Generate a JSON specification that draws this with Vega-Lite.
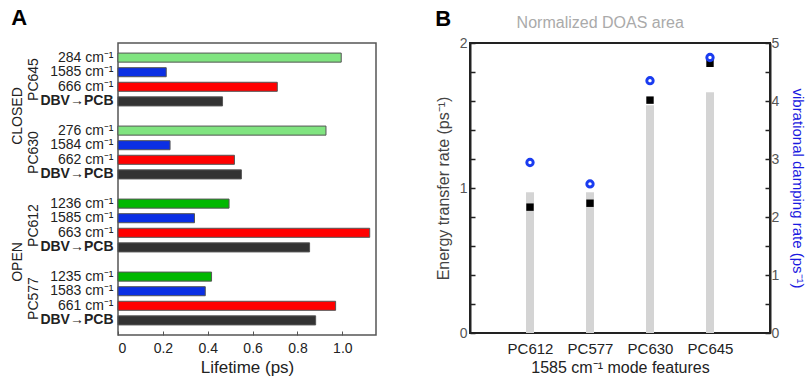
{
  "$schema": "https://vega.github.io/schema/vega-lite/v6.json",
  "padding": {"left": 10, "top": 6, "right": 0, "bottom": 2},
  "config": {"font": "Liberation Sans", "axis": {"labelFont": "Liberation Sans", "titleFont": "Liberation Sans"}},
  "spacing": 57,
  "hconcat": [
    {
      "title": {"text": "A", "fontSize": 22, "fontWeight": "bold", "anchor": "start", "frame": "bounds", "color": "#000", "offset": 13},
      "width": 258,
      "height": 292,
      "view": {"stroke": "#555", "strokeWidth": 1.5},
      "layer": [
        {
          "data": {"values": [
            {"key": "PC645|284 cm⁻¹", "kind": "low", "lifetime": 0.995},
            {"key": "PC645|1585 cm⁻¹", "kind": "1585", "lifetime": 0.215},
            {"key": "PC645|666 cm⁻¹", "kind": "660", "lifetime": 0.71},
            {"key": "PC645|DBV→PCB", "kind": "DBV", "lifetime": 0.466},
            {"key": "PC630|276 cm⁻¹", "kind": "low", "lifetime": 0.927},
            {"key": "PC630|1584 cm⁻¹", "kind": "1585", "lifetime": 0.232},
            {"key": "PC630|662 cm⁻¹", "kind": "660", "lifetime": 0.519},
            {"key": "PC630|DBV→PCB", "kind": "DBV", "lifetime": 0.55},
            {"key": "PC612|1236 cm⁻¹", "kind": "high", "lifetime": 0.495},
            {"key": "PC612|1585 cm⁻¹", "kind": "1585", "lifetime": 0.341},
            {"key": "PC612|663 cm⁻¹", "kind": "660", "lifetime": 1.122},
            {"key": "PC612|DBV→PCB", "kind": "DBV", "lifetime": 0.854},
            {"key": "PC577|1235 cm⁻¹", "kind": "high", "lifetime": 0.417},
            {"key": "PC577|1583 cm⁻¹", "kind": "1585", "lifetime": 0.389},
            {"key": "PC577|661 cm⁻¹", "kind": "660", "lifetime": 0.97},
            {"key": "PC577|DBV→PCB", "kind": "DBV", "lifetime": 0.881}
          ]},
          "mark": {"type": "bar", "stroke": "#555", "strokeWidth": 1},
          "encoding": {
            "x": {"field": "lifetime", "type": "quantitative",
              "scale": {"domain": [0, 1.15], "nice": false},
              "axis": {"orient": "bottom", "values": [0, 0.2, 0.4, 0.6, 0.8, 1.0], "labelExpr": "datum.value === 0 ? '0' : format(datum.value, '.1f')",
                "domain": false, "grid": false, "tickSize": -4, "tickColor": "#555", "labelPadding": 10, "labelFontSize": 14, "labelColor": "#222",
                "title": "Lifetime (ps)", "titleFontSize": 17, "titleFontWeight": "normal", "titleColor": "#222", "titlePadding": 4}},
            "y": {"field": "key", "type": "nominal",
              "scale": {"type": "band", "paddingInner": 0.38, "paddingOuter": 0.69, "domain": [
                "PC645|284 cm⁻¹", "PC645|1585 cm⁻¹", "PC645|666 cm⁻¹", "PC645|DBV→PCB", "g1|",
                "PC630|276 cm⁻¹", "PC630|1584 cm⁻¹", "PC630|662 cm⁻¹", "PC630|DBV→PCB", "g2|",
                "PC612|1236 cm⁻¹", "PC612|1585 cm⁻¹", "PC612|663 cm⁻¹", "PC612|DBV→PCB", "g3|",
                "PC577|1235 cm⁻¹", "PC577|1583 cm⁻¹", "PC577|661 cm⁻¹", "PC577|DBV→PCB"]},
              "axis": {"orient": "left", "title": null, "domain": false, "ticks": false, "labelPadding": 5, "labelFontSize": 14, "labelColor": "#222",
                "labelExpr": "slice(datum.label, indexof(datum.label, '|') + 1)",
                "labelFontWeight": {"condition": {"test": "indexof(datum.label, 'DBV') >= 0", "value": "bold"}, "value": "normal"}}},
            "color": {"field": "kind", "type": "nominal", "legend": null,
              "scale": {"domain": ["low", "high", "1585", "660", "DBV"], "range": ["#80e480", "#00b800", "#0b2fe4", "#ff0000", "#333333"]}}
          }
        },
        {
          "data": {"values": [
            {"label": "PC645", "key": "PC645|1585 cm⁻¹"},
            {"label": "PC630", "key": "PC630|1584 cm⁻¹"},
            {"label": "PC612", "key": "PC612|1585 cm⁻¹"},
            {"label": "PC577", "key": "PC577|1583 cm⁻¹"}
          ]},
          "mark": {"type": "text", "angle": 270, "align": "center", "baseline": "middle", "fontSize": 14, "color": "#222"},
          "encoding": {
            "x": {"datum": -0.375, "type": "quantitative"},
            "y": {"field": "key", "type": "nominal", "bandPosition": 1.306},
            "text": {"field": "label"}
          }
        },
        {
          "data": {"values": [
            {"label": "CLOSED", "key": "g1|"},
            {"label": "OPEN", "key": "g3|"}
          ]},
          "mark": {"type": "text", "angle": 270, "align": "center", "baseline": "middle", "fontSize": 14, "color": "#222"},
          "encoding": {
            "x": {"datum": -0.445, "type": "quantitative"},
            "y": {"field": "key", "type": "nominal", "bandPosition": 0.5},
            "text": {"field": "label"}
          }
        }
      ]
    },
    {
      "title": {"text": "B", "fontSize": 22, "fontWeight": "bold", "anchor": "start", "frame": "bounds", "color": "#000", "offset": -16},
      "width": 300,
      "height": 290,
      "view": {"stroke": "#222", "strokeWidth": 2},
      "data": {"values": [
        {"idx": 1, "sample": "PC612", "doas": 0.97, "rate": 0.868, "damp": 2.94},
        {"idx": 2, "sample": "PC577", "doas": 0.97, "rate": 0.895, "damp": 2.57},
        {"idx": 3, "sample": "PC630", "doas": 1.57, "rate": 1.606, "damp": 4.35},
        {"idx": 4, "sample": "PC645", "doas": 1.66, "rate": 1.86, "damp": 4.75}
      ]},
      "resolve": {"scale": {"y": "independent"}},
      "layer": [
        {
          "mark": {"type": "rule", "strokeWidth": 8, "color": "#d4d4d4", "strokeCap": "butt"},
          "encoding": {
            "x": {"field": "idx", "type": "quantitative",
              "scale": {"domain": [0, 5], "nice": false},
              "axis": {"orient": "bottom", "values": [1, 2, 3, 4], "labelExpr": "['', 'PC612', 'PC577', 'PC630', 'PC645'][datum.value]", "domain": false, "ticks": false, "grid": false, "labelPadding": 8, "labelFontSize": 15, "labelColor": "#222",
                "title": "1585 cm⁻¹ mode features", "titleFontSize": 16, "titleFontWeight": "normal", "titleColor": "#222", "titlePadding": 3}},
            "y": {"field": "doas", "type": "quantitative",
              "scale": {"domain": [0, 2], "nice": false},
              "axis": {"orient": "left", "values": [0, 0.2, 0.4, 0.6, 0.8, 1, 1.2, 1.4, 1.6, 1.8, 2], "labelExpr": "datum.value % 1 === 0 ? format(datum.value, 'd') : ''",
                "domain": true, "domainColor": "#222", "domainWidth": 2, "grid": false, "tickSize": -5, "tickColor": "#222", "tickWidth": 1.5,
                "labelPadding": 8, "labelFontSize": 14, "labelColor": "#555",
                "title": "Energy transfer rate (ps⁻¹)", "titleFontSize": 16, "titleFontWeight": "normal", "titleColor": "#444", "titlePadding": 8}},
            "y2": {"datum": 0}
          }
        },
        {
          "mark": {"type": "point", "shape": "square", "filled": true, "color": "#000", "size": 55, "opacity": 1},
          "encoding": {
            "x": {"field": "idx", "type": "quantitative"},
            "y": {"field": "rate", "type": "quantitative", "scale": {"domain": [0, 2], "nice": false}, "axis": null}
          }
        },
        {
          "mark": {"type": "point", "shape": "circle", "filled": false, "color": "#1a3cf0", "strokeWidth": 3, "size": 40, "opacity": 1},
          "encoding": {
            "x": {"field": "idx", "type": "quantitative"},
            "y": {"field": "damp", "type": "quantitative",
              "scale": {"domain": [0, 5], "nice": false},
              "axis": {"orient": "right", "values": [0, 0.5, 1, 1.5, 2, 2.5, 3, 3.5, 4, 4.5, 5], "labelExpr": "datum.value % 1 === 0 ? format(datum.value, 'd') : ''",
                "domain": true, "domainColor": "#222", "domainWidth": 2, "grid": false, "tickSize": -5, "tickColor": "#222", "tickWidth": 1.5,
                "labelPadding": 6, "labelFontSize": 14, "labelColor": "#555",
                "title": "vibrational damping rate (ps⁻¹)", "titleFontSize": 15, "titleFontWeight": "normal", "titleColor": "#1a1ae0", "titlePadding": 11}}
          }
        },
        {
          "data": {"values": [{"label": "Normalized DOAS area"}]},
          "mark": {"type": "text", "align": "center", "baseline": "middle", "fontSize": 16, "color": "#aaaaaa"},
          "encoding": {
            "x": {"datum": 2.17, "type": "quantitative"},
            "y": {"datum": 2.14, "type": "quantitative", "scale": {"domain": [0, 2], "nice": false}, "axis": null},
            "text": {"field": "label"}
          }
        }
      ]
    }
  ]
}
